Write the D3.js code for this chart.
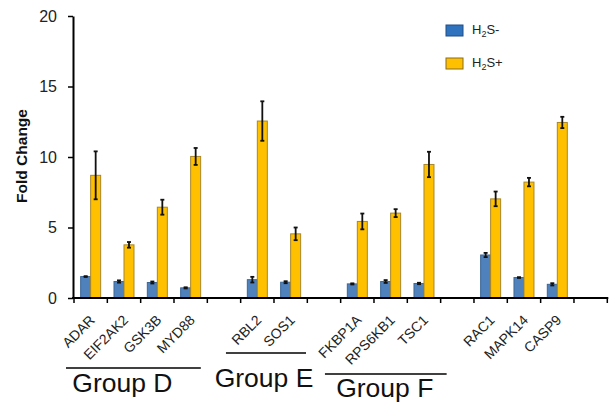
<!DOCTYPE html>
<html>
<head>
<meta charset="utf-8">
<script src="https://cdn.jsdelivr.net/npm/d3@7"></script>
<style>
  body { margin: 0; background: #fff; }
  svg { display: block; font-family: "Liberation Sans", Arial, sans-serif; }
</style>
</head>
<body>
<svg id="chart" width="613" height="403"></svg>
<script>
// Slots along the x axis; empty strings are the gaps between groups
const categories = ["ADAR", "EIF2AK2", "GSK3B", "MYD88", "", "RBL2", "SOS1", "",
  "FKBP1A", "RPS6KB1", "TSC1", "", "RAC1", "MAPK14", "CASP9", ""];

// H2S- (blue) and H2S+ (yellow) fold change, with error bars
const h2sMinus    = [1.52, 1.17, 1.10, 0.72, null, 1.30, 1.12, null, 1.00, 1.17, 1.03, null, 3.05, 1.45, 0.97, null];
const h2sMinusErr = [0.03, 0.08, 0.07, 0.04, null, 0.20, 0.07, null, 0.04, 0.10, 0.05, null, 0.15, 0.03, 0.08, null];
const h2sPlus     = [8.70, 3.77, 6.44, 10.04, null, 12.55, 4.55, null, 5.43, 6.02, 9.47, null, 7.03, 8.22, 12.45, null];
const h2sPlusErr  = [1.70, 0.20, 0.53, 0.60, null, 1.40, 0.45, null, 0.56, 0.28, 0.90, null, 0.52, 0.30, 0.40, null];

const yTicks = [0, 5, 10, 15, 20];
const seriesNames = ["H2S-", "H2S+"];

const groupNames = ["Group D", "Group E", "Group F"];
const groupSpans = [[0, 3], [5, 6], [8, 10]]; // first/last category index

// ---- layout ----
const svg = d3.select("#chart");
const plotLeft = 74, plotRight = 607.3, plotTop = 16, plotBottom = 298;

const x = d3.scaleBand()
  .domain(d3.range(categories.length))
  .range([plotLeft, plotRight])
  .paddingInner(0).paddingOuter(0);

const x1 = d3.scaleBand()
  .domain([0, 1])
  .range([0, x.bandwidth()])
  .paddingInner(0).paddingOuter(0.667);

const y = d3.scaleLinear().domain([0, 20]).range([plotBottom, plotTop]);

const colors = ["#4f81bd", "#ffc000"];
const strokes = ["#3b6697", "#a8862a"];

// bars
const series = [
  { vals: h2sMinus, errs: h2sMinusErr },
  { vals: h2sPlus, errs: h2sPlusErr }
];

series.forEach((s, si) => {
  const data = categories.map((c, i) => ({ i, v: s.vals[i], e: s.errs[i] }))
    .filter(d => d.v != null);

  svg.append("g").selectAll("rect")
    .data(data)
    .join("rect")
    .attr("x", d => x(d.i) + x1(si))
    .attr("y", d => y(d.v))
    .attr("width", x1.bandwidth())
    .attr("height", d => y(0) - y(d.v))
    .attr("fill", colors[si])
    .attr("stroke", strokes[si])
    .attr("stroke-width", 1);

  const eb = svg.append("g")
    .attr("stroke", "#111")
    .attr("stroke-width", 1.8)
    .selectAll("g")
    .data(data)
    .join("g")
    .attr("transform", d => `translate(${x(d.i) + x1(si) + x1.bandwidth() / 2},0)`);
  eb.append("line")
    .attr("y1", d => y(d.v + d.e)).attr("y2", d => y(d.v - d.e));
  eb.append("line")
    .attr("x1", -2).attr("x2", 2)
    .attr("y1", d => y(d.v + d.e)).attr("y2", d => y(d.v + d.e));
  eb.append("line")
    .attr("x1", -2).attr("x2", 2)
    .attr("y1", d => y(d.v - d.e)).attr("y2", d => y(d.v - d.e));
});

// y axis
const yAxis = svg.append("g")
  .attr("transform", `translate(${plotLeft - 1},0)`)
  .call(d3.axisLeft(y).tickValues(yTicks).tickSize(5).tickSizeOuter(0).tickPadding(11));
yAxis.select(".domain").attr("stroke", "#000").attr("stroke-width", 2);
yAxis.selectAll(".tick line").attr("stroke", "#000").attr("stroke-width", 1.5);
yAxis.selectAll(".tick text")
  .attr("font-size", 16).attr("fill", "#222")
  .attr("font-family", "Liberation Sans, Arial, sans-serif");

svg.append("text")
  .attr("transform", `translate(27,156) rotate(-90)`)
  .attr("text-anchor", "middle")
  .attr("font-size", 15.5)
  .attr("font-weight", "bold")
  .attr("fill", "#111")
  .text("Fold Change");

// x axis line + boundary ticks
svg.append("line")
  .attr("x1", plotLeft - 2).attr("x2", plotRight + 1)
  .attr("y1", plotBottom).attr("y2", plotBottom)
  .attr("stroke", "#000").attr("stroke-width", 2);

const boundaries = d3.range(categories.length + 1).map(i =>
  i < categories.length ? x(i) : x(i - 1) + x.bandwidth());
svg.append("g").selectAll("line")
  .data(boundaries)
  .join("line")
  .attr("x1", d => d).attr("x2", d => d)
  .attr("y1", plotBottom).attr("y2", plotBottom + 5)
  .attr("stroke", "#000").attr("stroke-width", 1.5);

// category labels
svg.append("g").selectAll("text")
  .data(categories.map((c, i) => ({ c, i })).filter(d => d.c))
  .join("text")
  .attr("transform", d => `translate(${x(d.i) + x.bandwidth() / 2 + 5},${plotBottom + 23}) rotate(-45)`)
  .attr("text-anchor", "end")
  .attr("font-size", 14)
  .attr("fill", "#222")
  .text(d => d.c);

// group brackets (hand-placed offsets as in the original figure)
const groupLayout = [
  { dx0: -8, dx1: -6.5, lineY: 368, textY: 392, textDx: -11 },
  { dx0: -14.7, dx1: -1.3, lineY: 353, textY: 387, textDx: -2 },
  { dx0: -15.7, dx1: 6, lineY: 374, textY: 397, textDx: -1 }
];
groupNames.forEach((g, gi) => {
  const [a, b] = groupSpans[gi];
  const L = groupLayout[gi];
  const x0 = x(a) + L.dx0, x1e = x(b) + x.bandwidth() + L.dx1;
  svg.append("line")
    .attr("x1", x0).attr("x2", x1e)
    .attr("y1", L.lineY).attr("y2", L.lineY)
    .attr("stroke", "#000").attr("stroke-width", 1.6);
  svg.append("text")
    .attr("x", (x0 + x1e) / 2 + L.textDx)
    .attr("y", L.textY)
    .attr("text-anchor", "middle")
    .attr("font-size", 26.5)
    .attr("fill", "#111")
    .text(g);
});

// legend
const legendColors = ["#2f72bd", "#ffc000"];
const legendStrokes = ["#1e4f86", "#8a6d1e"];
const lg = svg.append("g").selectAll("g")
  .data(seriesNames)
  .join("g")
  .attr("transform", (d, i) => `translate(446,${25 + i * 33})`);
lg.append("rect")
  .attr("width", 17).attr("height", 11)
  .attr("fill", (d, i) => legendColors[i])
  .attr("stroke", (d, i) => legendStrokes[i])
  .attr("stroke-width", 1);
const lt = lg.append("text")
  .attr("x", 26).attr("y", 9)
  .attr("font-size", 13)
  .attr("fill", "#222");
lt.append("tspan").text("H");
lt.append("tspan").attr("font-size", 9).attr("dy", 3).text("2");
lt.append("tspan").attr("dy", -3).text(d => d.slice(2));
</script>
</body>
</html>
